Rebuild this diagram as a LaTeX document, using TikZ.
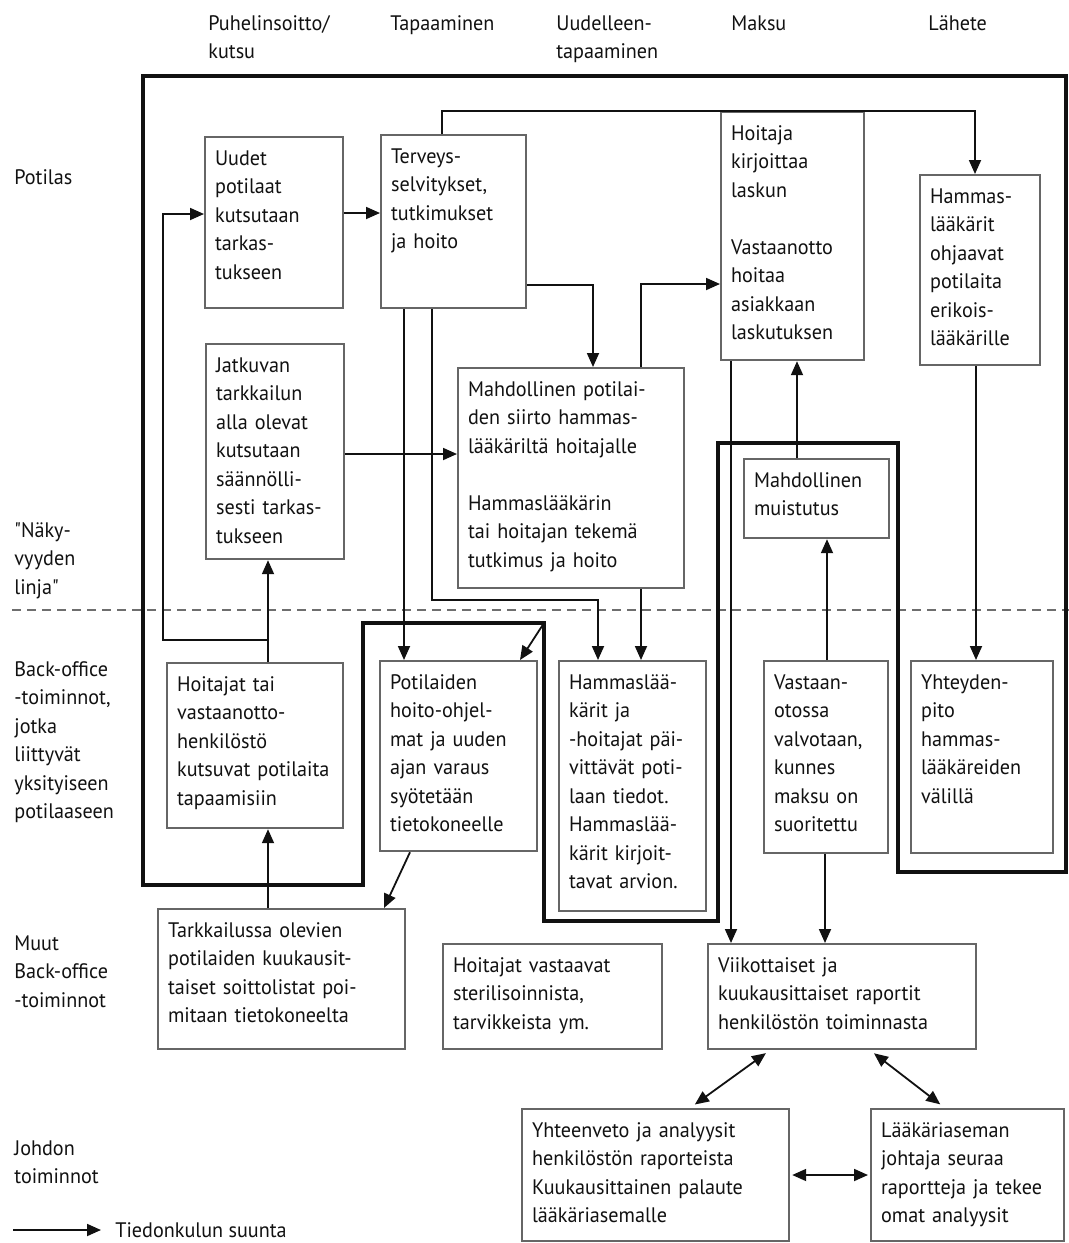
\documentclass[tikz,border=0pt]{standalone}
\usepackage{fontspec}
\setmainfont{PT Sans}[FakeStretch=0.96]
\newfontfamily\plainquote{PT Sans}[FakeStretch=0.96]
\usetikzlibrary{arrows.meta}
\definecolor{ink}{HTML}{111111}
\definecolor{boxline}{HTML}{666666}
\definecolor{seegray}{HTML}{6E6E6E}
\newcommand{\sq}{{\plainquote"}}

\begin{document}
\begin{tikzpicture}[
  x=0.5pt, y=-0.5pt,
  every node/.style={font=\fontsize{10.5pt}{14.25pt}\selectfont, text=ink},
  proc/.style 2 args={draw=boxline, line width=1.1pt, fill=white, anchor=north west, align=left, inner xsep=5pt, inner ysep=4pt, text height=10pt, text width=#1, text depth=#2},
  side/.style={anchor=base west, align=left, inner sep=0pt, text width=70pt},
  arrow/.style={-{Triangle[length=7pt,width=6pt]}, line width=0.9pt, draw=ink},
  twoway/.style={{Triangle[length=7pt,width=6pt]}-{Triangle[length=7pt,width=6pt]}, line width=0.9pt, draw=ink},
  zone/.style={line width=1.7pt, draw=ink},
  seeline/.style={dash pattern=on 4.5pt off 3pt, line width=0.8pt, draw=seegray}
]
\useasboundingbox (0,0) rectangle (1069,1243);

\node[side] (soitto) at (208,30) {Puhelinsoitto/\\kutsu};
\node[side] (tapaaminen) at (390,30) {Tapaaminen};
\node[side] (uusinta) at (556,30) {Uudelleen-\\tapaaminen};
\node[side] (maksu) at (731,30) {Maksu};
\node[side] (lahete) at (928,30) {Lähete};

\node[side] (potilas) at (14,184) {Potilas};
\node[side] (nakyvyys) at (14,537) {\sq Näky-\\vyyden\\linja\sq};
\node[side] (backoffice) at (14,676) {Back-office\\-toiminnot,\\jotka\\liittyvät\\yksityiseen\\potilaaseen};
\node[side] (muut) at (14,950) {Muut\\Back-office\\-toiminnot};
\node[side] (johdon) at (14,1155) {Johdon\\toiminnot};

\draw[seeline] (12,610) -- (1069,610);

\coordinate (fc) at (544,623);
\draw[zone] (143,76) -- (1066,76) -- (1066,872) -- (898,872) -- (898,443) -- (718,443) -- (718,921) -- (544,921) -- (fc) -- (363,623) -- (363,885) -- (143,885) -- cycle;

\node[proc={59pt}{67.5pt}] (uudet) at (204,136) {Uudet\\potilaat\\kutsutaan\\tarkas-\\tukseen};
\node[proc={62.5pt}{68.5pt}] (terveys) at (380,134) {Terveys-\\selvitykset,\\tutkimukset\\ja hoito};
\node[proc={61.5pt}{106pt}] (lasku) at (720,111) {Hoitaja\\kirjoittaa\\laskun\\[14.25pt]Vastaanotto\\hoitaa\\asiakkaan\\laskutuksen};
\node[proc={50pt}{77pt}] (ohjaa) at (919,174) {Hammas-\\lääkärit\\ohjaavat\\potilaita\\erikois-\\lääkärille};
\node[proc={59pt}{89.5pt}] (jatkuva) at (205,343) {Jatkuvan\\tarkkailun\\alla olevat\\kutsutaan\\säännölli-\\sesti tarkas-\\tukseen};
\node[proc={103pt}{92pt}] (siirto) at (457,367) {Mahdollinen potilai-\\den siirto hammas-\\lääkäriltä hoitajalle\\[14.25pt]Hammaslääkärin\\tai hoitajan tekemä\\tutkimus ja hoito};
\node[proc={62.5pt}{21.5pt}] (muistutus) at (743,458) {Mahdollinen\\muistutus};
\node[proc={78pt}{64.5pt}] (hoitajat) at (166,662) {Hoitajat tai\\vastaanotto-\\henkilöstö\\kutsuvat potilaita\\tapaamisiin};
\node[proc={68.5pt}{77pt}] (ohjelma) at (379,660) {Potilaiden\\hoito-ohjel-\\mat ja uuden\\ajan varaus\\syötetään\\tietokoneelle};
\node[proc={63.5pt}{107pt}] (paivitys) at (558,660) {Hammaslää-\\kärit ja\\-hoitajat päi-\\vittävät poti-\\laan tiedot.\\Hammaslää-\\kärit kirjoit-\\tavat arvion.};
\node[proc={52pt}{78pt}] (valvonta) at (763,660) {Vastaan-\\otossa\\valvotaan,\\kunnes\\maksu on\\suoritettu};
\node[proc={61pt}{78pt}] (yhteys) at (910,660) {Yhteyden-\\pito\\hammas-\\lääkäreiden\\välillä};
\node[proc={113.5pt}{52pt}] (lista) at (157,908) {Tarkkailussa olevien\\potilaiden kuukausit-\\taiset soittolistat poi-\\mitaan tietokoneelta};
\node[proc={99.5pt}{34.5pt}] (steril) at (442,943) {Hoitajat vastaavat\\sterilisoinnista,\\tarvikkeista ym.};
\node[proc={124pt}{34.5pt}] (raportit) at (707,943) {Viikottaiset ja\\kuukausittaiset raportit\\henkilöstön toiminnasta};
\node[proc={123.5pt}{48pt}] (yhteenveto) at (521,1108) {Yhteenveto ja analyysit\\henkilöstön raporteista\\Kuukausittainen palaute\\lääkäriasemalle};
\node[proc={86.5pt}{48pt}] (johtaja) at (870,1108) {Lääkäriaseman\\johtaja seuraa\\raportteja ja tekee\\omat analyysit};

\coordinate (jn) at (268,640);
\coordinate (legtail) at (13,1230);
\node[anchor=west, inner sep=0pt] (legend) at (115,1230) {Tiedonkulun suunta};

\draw[arrow] (uudet.east |- 0,213) -- (terveys.west |- 0,213);
\draw[arrow] (jn) -| (163,214) -- (uudet.west |- 0,214);
\draw[arrow] (hoitajat.north -| jn) -- (jatkuva.south -| jn);
\draw[arrow] (lista.north -| jn) -- (hoitajat.south -| jn);
\draw[arrow] (jatkuva.east |- 0,454) -- (siirto.west |- 0,454);
\draw[arrow] (terveys.north -| 442,0) |- (lasku.north) -| (ohjaa.north -| 975,0);
\draw[arrow] (terveys.east |- 0,285) -| (siirto.north -| 593,0);
\draw[arrow] (siirto.north -| 641,0) |- (lasku.west |- 0,284);
\draw[arrow] (terveys.south -| 404,0) -- (ohjelma.north -| 404,0);
\draw[arrow] (terveys.south -| 432,0) |- (598,600) -- (paivitys.north -| 598,0);
\draw[arrow] (siirto.south -| 641,0) -- (paivitys.north -| 641,0);
\draw[arrow] (fc) -- (ohjelma.north -| 520,0);
\draw[arrow] (ohjelma.south -| 410,0) -- (lista.north -| 384,0);
\draw[arrow] (lasku.south -| 731,0) -- (raportit.north -| 731,0);
\draw[arrow] (muistutus.north -| 797,0) -- (lasku.south -| 797,0);
\draw[arrow] (valvonta.north -| 827,0) -- (muistutus.south -| 827,0);
\draw[arrow] (valvonta.south -| 825,0) -- (raportit.north -| 825,0);
\draw[arrow] (ohjaa.south -| 976,0) -- (yhteys.north -| 976,0);
\draw[twoway, shorten <=2.5pt, shorten >=3pt] (raportit.south -| 770,0) -- (yhteenveto.north -| 690,0);
\draw[twoway, shorten <=2.5pt, shorten >=3pt] (raportit.south -| 870,0) -- (johtaja.north -| 945,0);
\draw[twoway, shorten <=1pt, shorten >=1pt] (yhteenveto.east |- 0,1175) -- (johtaja.west |- 0,1175);
\draw[arrow] (legtail) -- ([xshift=-7pt]legend.west);
\end{tikzpicture}
\end{document}
